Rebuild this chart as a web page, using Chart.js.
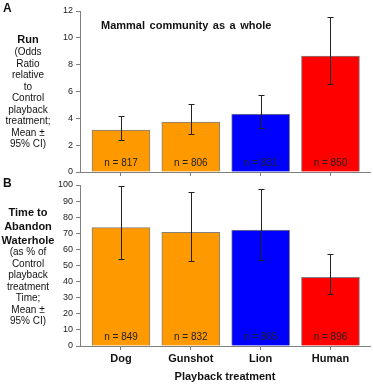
<!DOCTYPE html>
<html>
<head>
<meta charset="utf-8">
<script src="https://cdn.jsdelivr.net/npm/chart.js@4"></script>
<style>
  html, body { margin: 0; padding: 0; background: #fff; }
  body { width: 373px; height: 385px; position: relative; overflow: hidden; font-family: 'Liberation Sans', Arial, sans-serif; color: #111; }
  canvas { position: absolute; left: 0; }
  #chart-a { top: 0; }
  #chart-b { top: 174px; }
  .panel { position: absolute; font-weight: bold; font-size: 12px; line-height: 14px; }
  .side { position: absolute; left: 0; width: 56px; text-align: center; }
  .side .head { font-weight: bold; font-size: 11px; line-height: 14px; }
  .side .sub { font-size: 10px; line-height: 11.5px; }
  #inner-title { position: absolute; left: 101px; top: 18px; font-size: 11px; font-weight: bold; line-height: 14px; word-spacing: 1.5px; white-space: nowrap; }
</style>
</head>
<body>
<canvas id="chart-a" width="373" height="185"></canvas>
<canvas id="chart-b" width="373" height="211"></canvas>

<div class="panel" style="left:3px; top:1px;">A</div>
<div class="panel" style="left:3px; top:176px;">B</div>
<div id="inner-title">Mammal community as a whole</div>

<div class="side" style="top:32px;">
  <div class="head">Run</div>
</div>
<div class="side" style="top:46px;">
  <div class="sub">(Odds<br>Ratio<br>relative<br>to<br>Control<br>playback<br>treatment;<br>Mean ±<br>95% CI)</div>
</div>
<div class="side" style="top:205px;">
  <div class="head">Time to<br>Abandon<br>Waterhole</div>
</div>
<div class="side" style="top:246px;">
  <div class="sub">(as % of<br>Control<br>playback<br>treatment<br>Time;<br>Mean ±<br>95% CI)</div>
</div>

<script>
const categories = ['Dog', 'Gunshot', 'Lion', 'Human'];
const barColors = ['#FF9900', '#FF9900', '#0000FF', '#FF0000'];

// panel A: odds ratio of running
const runMeans = [3.13, 3.73, 4.32, 8.64];
const runLower = [2.38, 2.83, 3.28, 6.56];
const runUpper = [4.17, 5.07, 5.74, 11.55];
const runN = [817, 806, 831, 850];

// panel B: time to abandon waterhole (% of control)
const abandonMeans = [73.5, 70.6, 72.0, 42.7];
const abandonLower = [54.0, 52.6, 53.2, 32.3];
const abandonUpper = [99.4, 95.5, 97.5, 57.0];
const abandonN = [849, 832, 865, 896];

const FONT = "'Liberation Sans', Arial, sans-serif";
const AXIS_GREY = '#808080';

// error bars + "n = ..." labels, positioned through the chart scales
const barExtras = {
  id: 'barExtras',
  afterDatasetsDraw(chart, args, opts) {
    const { ctx } = chart;
    const x = chart.scales.x;
    const y = chart.scales.y;
    ctx.save();
    ctx.strokeStyle = '#222';
    ctx.lineWidth = 1;
    opts.lower.forEach((lo, i) => {
      const px = Math.round(x.getPixelForValue(i)) + 0.5;
      const yLo = Math.round(y.getPixelForValue(lo)) + 0.5;
      const yHi = Math.round(y.getPixelForValue(opts.upper[i])) + 0.5;
      ctx.beginPath();
      ctx.moveTo(px, yLo);
      ctx.lineTo(px, yHi);
      ctx.moveTo(px - 3, yLo);
      ctx.lineTo(px + 3, yLo);
      ctx.moveTo(px - 3, yHi);
      ctx.lineTo(px + 3, yHi);
      ctx.stroke();
    });

    ctx.fillStyle = '#222';
    ctx.font = `10px ${FONT}`;
    ctx.textAlign = 'center';
    ctx.textBaseline = 'middle';
    opts.counts.forEach((n, i) => {
      ctx.fillText(`n = ${n}`, x.getPixelForValue(i), y.bottom - 9);
    });
    ctx.restore();
  }
};

function buildChart(canvasId, config) {
  const points = config.means.map((v, i) => ({ x: i, y: v }));

  return new Chart(document.getElementById(canvasId), {
    type: 'bar',
    data: {
      datasets: [{
        data: points,
        backgroundColor: barColors,
        borderColor: AXIS_GREY,
        borderWidth: 1,
        barThickness: 58
      }]
    },
    options: {
      responsive: false,
      animation: false,
      devicePixelRatio: 1,
      layout: { padding: { top: 11, right: 3, left: 0, bottom: 0 } },
      plugins: {
        legend: { display: false },
        tooltip: { enabled: false },
        barExtras: {
          lower: config.lower,
          upper: config.upper,
          counts: config.counts
        }
      },
      scales: {
        x: {
          type: 'linear',
          offset: false,
          min: -0.587,
          max: 3.566,
          afterFit(scale) {
            scale.height = config.xHeight;
          },
          ticks: {
            display: config.showLabels,
            includeBounds: false,
            autoSkip: false,
            maxRotation: 0,
            stepSize: 1,
            padding: 2,
            color: '#111',
            font: { family: FONT, size: 11, weight: 'bold' },
            callback: (value) => categories[Math.round(value)] ?? ''
          },
          grid: {
            offset: false,
            drawOnChartArea: false,
            drawTicks: true,
            tickLength: 4,
            color: AXIS_GREY
          },
          border: { color: AXIS_GREY },
          title: {
            display: config.showLabels,
            text: 'Playback treatment',
            color: '#111',
            font: { family: FONT, size: 11, weight: 'bold' },
            padding: { top: 0, bottom: 1 }
          }
        },
        y: {
          min: 0,
          max: config.yMax,
          afterFit(scale) {
            scale.width = 80;
          },
          ticks: {
            stepSize: config.yStep,
            padding: 3,
            color: '#222',
            font: { family: FONT, size: 9 }
          },
          grid: {
            drawOnChartArea: false,
            drawTicks: true,
            tickLength: 4,
            color: AXIS_GREY
          },
          border: { color: AXIS_GREY }
        }
      }
    },
    plugins: [barExtras]
  });
}

buildChart('chart-a', {
  means: runMeans,
  lower: runLower,
  upper: runUpper,
  counts: runN,
  yMax: 12,
  yStep: 2,
  xHeight: 13,
  showLabels: false
});

buildChart('chart-b', {
  means: abandonMeans,
  lower: abandonLower,
  upper: abandonUpper,
  counts: abandonN,
  yMax: 100,
  yStep: 10,
  xHeight: 39,
  showLabels: true
});
</script>
</body>
</html>
